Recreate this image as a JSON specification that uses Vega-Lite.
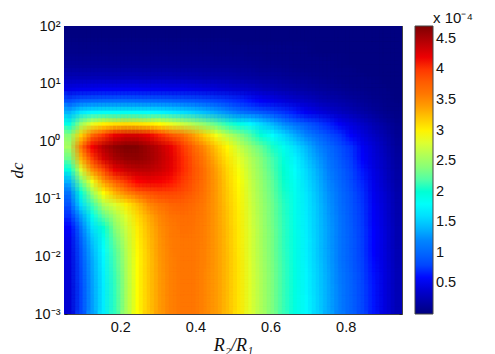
{"$schema":"https://vega.github.io/schema/vega-lite/v6.json","width":338,"height":288,"autosize":{"type":"none"},"padding":{"left":64,"top":26,"right":93,"bottom":40},"background":"white","config":{"font":"Liberation Sans","view":{"stroke":null}},"title":{"text":"x 10⁻⁴","anchor":"start","dx":425,"offset":-8,"fontSize":15,"fontWeight":"normal","font":"Liberation Sans","color":"#111"},"datasets":{"t":[
{"x":0.065,"d":79.4,"v":0.02},{"x":0.095,"d":79.4,"v":0.02},{"x":0.125,"d":79.4,"v":0.02},{"x":0.155,"d":79.4,"v":0.02},{"x":0.185,"d":79.4,"v":0.02},{"x":0.215,"d":79.4,"v":0.02},{"x":0.245,"d":79.4,"v":0.02},{"x":0.275,"d":79.4,"v":0.02},{"x":0.305,"d":79.4,"v":0.02},{"x":0.335,"d":79.4,"v":0.02},{"x":0.365,"d":79.4,"v":0.02},{"x":0.395,"d":79.4,"v":0.02},{"x":0.425,"d":79.4,"v":0.02},{"x":0.455,"d":79.4,"v":0.02},{"x":0.485,"d":79.4,"v":0.02},{"x":0.515,"d":79.4,"v":0.02},{"x":0.545,"d":79.4,"v":0.02},{"x":0.575,"d":79.4,"v":0.02},{"x":0.605,"d":79.4,"v":0.01},{"x":0.635,"d":79.4,"v":0.01},{"x":0.665,"d":79.4,"v":0.01},{"x":0.695,"d":79.4,"v":0.01},{"x":0.725,"d":79.4,"v":0.01},{"x":0.755,"d":79.4,"v":0.01},{"x":0.785,"d":79.4,"v":0.01},{"x":0.815,"d":79.4,"v":0.01},{"x":0.845,"d":79.4,"v":0.01},{"x":0.875,"d":79.4,"v":0.01},{"x":0.905,"d":79.4,"v":0.01},{"x":0.935,"d":79.4,"v":0.01},
{"x":0.065,"d":50.1,"v":0.04},{"x":0.095,"d":50.1,"v":0.04},{"x":0.125,"d":50.1,"v":0.04},{"x":0.155,"d":50.1,"v":0.04},{"x":0.185,"d":50.1,"v":0.04},{"x":0.215,"d":50.1,"v":0.04},{"x":0.245,"d":50.1,"v":0.04},{"x":0.275,"d":50.1,"v":0.04},{"x":0.305,"d":50.1,"v":0.04},{"x":0.335,"d":50.1,"v":0.04},{"x":0.365,"d":50.1,"v":0.04},{"x":0.395,"d":50.1,"v":0.04},{"x":0.425,"d":50.1,"v":0.04},{"x":0.455,"d":50.1,"v":0.04},{"x":0.485,"d":50.1,"v":0.04},{"x":0.515,"d":50.1,"v":0.03},{"x":0.545,"d":50.1,"v":0.03},{"x":0.575,"d":50.1,"v":0.03},{"x":0.605,"d":50.1,"v":0.03},{"x":0.635,"d":50.1,"v":0.03},{"x":0.665,"d":50.1,"v":0.03},{"x":0.695,"d":50.1,"v":0.03},{"x":0.725,"d":50.1,"v":0.02},{"x":0.755,"d":50.1,"v":0.02},{"x":0.785,"d":50.1,"v":0.02},{"x":0.815,"d":50.1,"v":0.02},{"x":0.845,"d":50.1,"v":0.02},{"x":0.875,"d":50.1,"v":0.01},{"x":0.905,"d":50.1,"v":0.01},{"x":0.935,"d":50.1,"v":0.01},
{"x":0.065,"d":31.6,"v":0.08},{"x":0.095,"d":31.6,"v":0.08},{"x":0.125,"d":31.6,"v":0.08},{"x":0.155,"d":31.6,"v":0.08},{"x":0.185,"d":31.6,"v":0.08},{"x":0.215,"d":31.6,"v":0.08},{"x":0.245,"d":31.6,"v":0.08},{"x":0.275,"d":31.6,"v":0.08},{"x":0.305,"d":31.6,"v":0.08},{"x":0.335,"d":31.6,"v":0.08},{"x":0.365,"d":31.6,"v":0.08},{"x":0.395,"d":31.6,"v":0.08},{"x":0.425,"d":31.6,"v":0.08},{"x":0.455,"d":31.6,"v":0.07},{"x":0.485,"d":31.6,"v":0.07},{"x":0.515,"d":31.6,"v":0.07},{"x":0.545,"d":31.6,"v":0.06},{"x":0.575,"d":31.6,"v":0.06},{"x":0.605,"d":31.6,"v":0.05},{"x":0.635,"d":31.6,"v":0.05},{"x":0.665,"d":31.6,"v":0.04},{"x":0.695,"d":31.6,"v":0.04},{"x":0.725,"d":31.6,"v":0.03},{"x":0.755,"d":31.6,"v":0.03},{"x":0.785,"d":31.6,"v":0.03},{"x":0.815,"d":31.6,"v":0.02},{"x":0.845,"d":31.6,"v":0.02},{"x":0.875,"d":31.6,"v":0.02},{"x":0.905,"d":31.6,"v":0.01},{"x":0.935,"d":31.6,"v":0.01},
{"x":0.065,"d":20,"v":0.14},{"x":0.095,"d":20,"v":0.14},{"x":0.125,"d":20,"v":0.14},{"x":0.155,"d":20,"v":0.14},{"x":0.185,"d":20,"v":0.14},{"x":0.215,"d":20,"v":0.14},{"x":0.245,"d":20,"v":0.14},{"x":0.275,"d":20,"v":0.14},{"x":0.305,"d":20,"v":0.14},{"x":0.335,"d":20,"v":0.14},{"x":0.365,"d":20,"v":0.13},{"x":0.395,"d":20,"v":0.13},{"x":0.425,"d":20,"v":0.13},{"x":0.455,"d":20,"v":0.12},{"x":0.485,"d":20,"v":0.12},{"x":0.515,"d":20,"v":0.11},{"x":0.545,"d":20,"v":0.1},{"x":0.575,"d":20,"v":0.09},{"x":0.605,"d":20,"v":0.08},{"x":0.635,"d":20,"v":0.07},{"x":0.665,"d":20,"v":0.06},{"x":0.695,"d":20,"v":0.05},{"x":0.725,"d":20,"v":0.05},{"x":0.755,"d":20,"v":0.04},{"x":0.785,"d":20,"v":0.03},{"x":0.815,"d":20,"v":0.03},{"x":0.845,"d":20,"v":0.02},{"x":0.875,"d":20,"v":0.02},{"x":0.905,"d":20,"v":0.02},{"x":0.935,"d":20,"v":0.01},
{"x":0.065,"d":12.6,"v":0.27},{"x":0.095,"d":12.6,"v":0.28},{"x":0.125,"d":12.6,"v":0.28},{"x":0.155,"d":12.6,"v":0.28},{"x":0.185,"d":12.6,"v":0.28},{"x":0.215,"d":12.6,"v":0.28},{"x":0.245,"d":12.6,"v":0.28},{"x":0.275,"d":12.6,"v":0.27},{"x":0.305,"d":12.6,"v":0.27},{"x":0.335,"d":12.6,"v":0.27},{"x":0.365,"d":12.6,"v":0.26},{"x":0.395,"d":12.6,"v":0.25},{"x":0.425,"d":12.6,"v":0.24},{"x":0.455,"d":12.6,"v":0.23},{"x":0.485,"d":12.6,"v":0.22},{"x":0.515,"d":12.6,"v":0.2},{"x":0.545,"d":12.6,"v":0.18},{"x":0.575,"d":12.6,"v":0.16},{"x":0.605,"d":12.6,"v":0.15},{"x":0.635,"d":12.6,"v":0.13},{"x":0.665,"d":12.6,"v":0.11},{"x":0.695,"d":12.6,"v":0.1},{"x":0.725,"d":12.6,"v":0.08},{"x":0.755,"d":12.6,"v":0.07},{"x":0.785,"d":12.6,"v":0.06},{"x":0.815,"d":12.6,"v":0.05},{"x":0.845,"d":12.6,"v":0.04},{"x":0.875,"d":12.6,"v":0.03},{"x":0.905,"d":12.6,"v":0.02},{"x":0.935,"d":12.6,"v":0.01},
{"x":0.065,"d":7.94,"v":0.48},{"x":0.095,"d":7.94,"v":0.52},{"x":0.125,"d":7.94,"v":0.53},{"x":0.155,"d":7.94,"v":0.54},{"x":0.185,"d":7.94,"v":0.54},{"x":0.215,"d":7.94,"v":0.54},{"x":0.245,"d":7.94,"v":0.54},{"x":0.275,"d":7.94,"v":0.53},{"x":0.305,"d":7.94,"v":0.52},{"x":0.335,"d":7.94,"v":0.51},{"x":0.365,"d":7.94,"v":0.5},{"x":0.395,"d":7.94,"v":0.48},{"x":0.425,"d":7.94,"v":0.46},{"x":0.455,"d":7.94,"v":0.43},{"x":0.485,"d":7.94,"v":0.4},{"x":0.515,"d":7.94,"v":0.37},{"x":0.545,"d":7.94,"v":0.34},{"x":0.575,"d":7.94,"v":0.3},{"x":0.605,"d":7.94,"v":0.27},{"x":0.635,"d":7.94,"v":0.24},{"x":0.665,"d":7.94,"v":0.21},{"x":0.695,"d":7.94,"v":0.18},{"x":0.725,"d":7.94,"v":0.15},{"x":0.755,"d":7.94,"v":0.13},{"x":0.785,"d":7.94,"v":0.11},{"x":0.815,"d":7.94,"v":0.09},{"x":0.845,"d":7.94,"v":0.07},{"x":0.875,"d":7.94,"v":0.05},{"x":0.905,"d":7.94,"v":0.04},{"x":0.935,"d":7.94,"v":0.02},
{"x":0.065,"d":5.01,"v":0.85},{"x":0.095,"d":5.01,"v":0.98},{"x":0.125,"d":5.01,"v":1.02},{"x":0.155,"d":5.01,"v":1.04},{"x":0.185,"d":5.01,"v":1.05},{"x":0.215,"d":5.01,"v":1.05},{"x":0.245,"d":5.01,"v":1.04},{"x":0.275,"d":5.01,"v":1.03},{"x":0.305,"d":5.01,"v":1.01},{"x":0.335,"d":5.01,"v":0.98},{"x":0.365,"d":5.01,"v":0.95},{"x":0.395,"d":5.01,"v":0.91},{"x":0.425,"d":5.01,"v":0.86},{"x":0.455,"d":5.01,"v":0.8},{"x":0.485,"d":5.01,"v":0.74},{"x":0.515,"d":5.01,"v":0.68},{"x":0.545,"d":5.01,"v":0.62},{"x":0.575,"d":5.01,"v":0.56},{"x":0.605,"d":5.01,"v":0.5},{"x":0.635,"d":5.01,"v":0.44},{"x":0.665,"d":5.01,"v":0.38},{"x":0.695,"d":5.01,"v":0.33},{"x":0.725,"d":5.01,"v":0.28},{"x":0.755,"d":5.01,"v":0.24},{"x":0.785,"d":5.01,"v":0.2},{"x":0.815,"d":5.01,"v":0.16},{"x":0.845,"d":5.01,"v":0.12},{"x":0.875,"d":5.01,"v":0.09},{"x":0.905,"d":5.01,"v":0.06},{"x":0.935,"d":5.01,"v":0.03},
{"x":0.065,"d":3.16,"v":1.4},{"x":0.095,"d":3.16,"v":1.65},{"x":0.125,"d":3.16,"v":1.75},{"x":0.155,"d":3.16,"v":1.8},{"x":0.185,"d":3.16,"v":1.82},{"x":0.215,"d":3.16,"v":1.82},{"x":0.245,"d":3.16,"v":1.8},{"x":0.275,"d":3.16,"v":1.78},{"x":0.305,"d":3.16,"v":1.74},{"x":0.335,"d":3.16,"v":1.68},{"x":0.365,"d":3.16,"v":1.62},{"x":0.395,"d":3.16,"v":1.54},{"x":0.425,"d":3.16,"v":1.45},{"x":0.455,"d":3.16,"v":1.35},{"x":0.485,"d":3.16,"v":1.24},{"x":0.515,"d":3.16,"v":1.12},{"x":0.545,"d":3.16,"v":1.02},{"x":0.575,"d":3.16,"v":0.92},{"x":0.605,"d":3.16,"v":0.82},{"x":0.635,"d":3.16,"v":0.72},{"x":0.665,"d":3.16,"v":0.63},{"x":0.695,"d":3.16,"v":0.54},{"x":0.725,"d":3.16,"v":0.46},{"x":0.755,"d":3.16,"v":0.39},{"x":0.785,"d":3.16,"v":0.32},{"x":0.815,"d":3.16,"v":0.26},{"x":0.845,"d":3.16,"v":0.2},{"x":0.875,"d":3.16,"v":0.14},{"x":0.905,"d":3.16,"v":0.09},{"x":0.935,"d":3.16,"v":0.05},
{"x":0.065,"d":2,"v":1.9},{"x":0.095,"d":2,"v":2.5},{"x":0.125,"d":2,"v":2.85},{"x":0.155,"d":2,"v":3.0},{"x":0.185,"d":2,"v":3.08},{"x":0.215,"d":2,"v":3.1},{"x":0.245,"d":2,"v":3.08},{"x":0.275,"d":2,"v":3.03},{"x":0.305,"d":2,"v":2.95},{"x":0.335,"d":2,"v":2.85},{"x":0.365,"d":2,"v":2.72},{"x":0.395,"d":2,"v":2.58},{"x":0.425,"d":2,"v":2.42},{"x":0.455,"d":2,"v":2.25},{"x":0.485,"d":2,"v":2.08},{"x":0.515,"d":2,"v":1.92},{"x":0.545,"d":2,"v":1.75},{"x":0.575,"d":2,"v":1.57},{"x":0.605,"d":2,"v":1.4},{"x":0.635,"d":2,"v":1.23},{"x":0.665,"d":2,"v":1.07},{"x":0.695,"d":2,"v":0.92},{"x":0.725,"d":2,"v":0.78},{"x":0.755,"d":2,"v":0.66},{"x":0.785,"d":2,"v":0.55},{"x":0.815,"d":2,"v":0.44},{"x":0.845,"d":2,"v":0.34},{"x":0.875,"d":2,"v":0.25},{"x":0.905,"d":2,"v":0.16},{"x":0.935,"d":2,"v":0.08},
{"x":0.065,"d":1.26,"v":2.4},{"x":0.095,"d":1.26,"v":3.15},{"x":0.125,"d":1.26,"v":3.7},{"x":0.155,"d":1.26,"v":4.0},{"x":0.185,"d":1.26,"v":4.2},{"x":0.215,"d":1.26,"v":4.3},{"x":0.245,"d":1.26,"v":4.3},{"x":0.275,"d":1.26,"v":4.2},{"x":0.305,"d":1.26,"v":4.05},{"x":0.335,"d":1.26,"v":3.85},{"x":0.365,"d":1.26,"v":3.65},{"x":0.395,"d":1.26,"v":3.4},{"x":0.425,"d":1.26,"v":3.15},{"x":0.455,"d":1.26,"v":2.9},{"x":0.485,"d":1.26,"v":2.65},{"x":0.515,"d":1.26,"v":2.42},{"x":0.545,"d":1.26,"v":2.2},{"x":0.575,"d":1.26,"v":1.98},{"x":0.605,"d":1.26,"v":1.78},{"x":0.635,"d":1.26,"v":1.58},{"x":0.665,"d":1.26,"v":1.38},{"x":0.695,"d":1.26,"v":1.2},{"x":0.725,"d":1.26,"v":1.03},{"x":0.755,"d":1.26,"v":0.87},{"x":0.785,"d":1.26,"v":0.72},{"x":0.815,"d":1.26,"v":0.58},{"x":0.845,"d":1.26,"v":0.45},{"x":0.875,"d":1.26,"v":0.33},{"x":0.905,"d":1.26,"v":0.22},{"x":0.935,"d":1.26,"v":0.11},
{"x":0.065,"d":0.794,"v":2.55},{"x":0.095,"d":0.794,"v":3.6},{"x":0.125,"d":0.794,"v":4.15},{"x":0.155,"d":0.794,"v":4.45},{"x":0.185,"d":0.794,"v":4.62},{"x":0.215,"d":0.794,"v":4.7},{"x":0.245,"d":0.794,"v":4.68},{"x":0.275,"d":0.794,"v":4.55},{"x":0.305,"d":0.794,"v":4.4},{"x":0.335,"d":0.794,"v":4.2},{"x":0.365,"d":0.794,"v":4.0},{"x":0.395,"d":0.794,"v":3.72},{"x":0.425,"d":0.794,"v":3.45},{"x":0.455,"d":0.794,"v":3.2},{"x":0.485,"d":0.794,"v":2.96},{"x":0.515,"d":0.794,"v":2.72},{"x":0.545,"d":0.794,"v":2.48},{"x":0.575,"d":0.794,"v":2.26},{"x":0.605,"d":0.794,"v":2.05},{"x":0.635,"d":0.794,"v":1.85},{"x":0.665,"d":0.794,"v":1.62},{"x":0.695,"d":0.794,"v":1.42},{"x":0.725,"d":0.794,"v":1.22},{"x":0.755,"d":0.794,"v":1.04},{"x":0.785,"d":0.794,"v":0.87},{"x":0.815,"d":0.794,"v":0.71},{"x":0.845,"d":0.794,"v":0.55},{"x":0.875,"d":0.794,"v":0.41},{"x":0.905,"d":0.794,"v":0.28},{"x":0.935,"d":0.794,"v":0.14},
{"x":0.065,"d":0.501,"v":2.3},{"x":0.095,"d":0.501,"v":3.3},{"x":0.125,"d":0.501,"v":3.95},{"x":0.155,"d":0.501,"v":4.3},{"x":0.185,"d":0.501,"v":4.5},{"x":0.215,"d":0.501,"v":4.6},{"x":0.245,"d":0.501,"v":4.62},{"x":0.275,"d":0.501,"v":4.55},{"x":0.305,"d":0.501,"v":4.42},{"x":0.335,"d":0.501,"v":4.25},{"x":0.365,"d":0.501,"v":4.05},{"x":0.395,"d":0.501,"v":3.8},{"x":0.425,"d":0.501,"v":3.55},{"x":0.455,"d":0.501,"v":3.3},{"x":0.485,"d":0.501,"v":3.05},{"x":0.515,"d":0.501,"v":2.85},{"x":0.545,"d":0.501,"v":2.62},{"x":0.575,"d":0.501,"v":2.38},{"x":0.605,"d":0.501,"v":2.16},{"x":0.635,"d":0.501,"v":1.95},{"x":0.665,"d":0.501,"v":1.72},{"x":0.695,"d":0.501,"v":1.5},{"x":0.725,"d":0.501,"v":1.3},{"x":0.755,"d":0.501,"v":1.1},{"x":0.785,"d":0.501,"v":0.92},{"x":0.815,"d":0.501,"v":0.75},{"x":0.845,"d":0.501,"v":0.58},{"x":0.875,"d":0.501,"v":0.43},{"x":0.905,"d":0.501,"v":0.3},{"x":0.935,"d":0.501,"v":0.16},
{"x":0.065,"d":0.316,"v":1.95},{"x":0.095,"d":0.316,"v":2.8},{"x":0.125,"d":0.316,"v":3.45},{"x":0.155,"d":0.316,"v":3.9},{"x":0.185,"d":0.316,"v":4.2},{"x":0.215,"d":0.316,"v":4.35},{"x":0.245,"d":0.316,"v":4.42},{"x":0.275,"d":0.316,"v":4.42},{"x":0.305,"d":0.316,"v":4.35},{"x":0.335,"d":0.316,"v":4.22},{"x":0.365,"d":0.316,"v":4.05},{"x":0.395,"d":0.316,"v":3.85},{"x":0.425,"d":0.316,"v":3.62},{"x":0.455,"d":0.316,"v":3.38},{"x":0.485,"d":0.316,"v":3.12},{"x":0.515,"d":0.316,"v":2.92},{"x":0.545,"d":0.316,"v":2.68},{"x":0.575,"d":0.316,"v":2.43},{"x":0.605,"d":0.316,"v":2.2},{"x":0.635,"d":0.316,"v":2.0},{"x":0.665,"d":0.316,"v":1.78},{"x":0.695,"d":0.316,"v":1.58},{"x":0.725,"d":0.316,"v":1.37},{"x":0.755,"d":0.316,"v":1.17},{"x":0.785,"d":0.316,"v":0.98},{"x":0.815,"d":0.316,"v":0.8},{"x":0.845,"d":0.316,"v":0.62},{"x":0.875,"d":0.316,"v":0.47},{"x":0.905,"d":0.316,"v":0.32},{"x":0.935,"d":0.316,"v":0.18},
{"x":0.065,"d":0.2,"v":1.4},{"x":0.095,"d":0.2,"v":2.3},{"x":0.125,"d":0.2,"v":2.9},{"x":0.155,"d":0.2,"v":3.4},{"x":0.185,"d":0.2,"v":3.75},{"x":0.215,"d":0.2,"v":4.0},{"x":0.245,"d":0.2,"v":4.12},{"x":0.275,"d":0.2,"v":4.18},{"x":0.305,"d":0.2,"v":4.15},{"x":0.335,"d":0.2,"v":4.1},{"x":0.365,"d":0.2,"v":3.98},{"x":0.395,"d":0.2,"v":3.82},{"x":0.425,"d":0.2,"v":3.62},{"x":0.455,"d":0.2,"v":3.4},{"x":0.485,"d":0.2,"v":3.16},{"x":0.515,"d":0.2,"v":2.95},{"x":0.545,"d":0.2,"v":2.72},{"x":0.575,"d":0.2,"v":2.47},{"x":0.605,"d":0.2,"v":2.25},{"x":0.635,"d":0.2,"v":2.03},{"x":0.665,"d":0.2,"v":1.82},{"x":0.695,"d":0.2,"v":1.62},{"x":0.725,"d":0.2,"v":1.41},{"x":0.755,"d":0.2,"v":1.21},{"x":0.785,"d":0.2,"v":1.02},{"x":0.815,"d":0.2,"v":0.84},{"x":0.845,"d":0.2,"v":0.66},{"x":0.875,"d":0.2,"v":0.5},{"x":0.905,"d":0.2,"v":0.35},{"x":0.935,"d":0.2,"v":0.2},
{"x":0.065,"d":0.126,"v":1.1},{"x":0.095,"d":0.126,"v":1.95},{"x":0.125,"d":0.126,"v":2.5},{"x":0.155,"d":0.126,"v":2.95},{"x":0.185,"d":0.126,"v":3.28},{"x":0.215,"d":0.126,"v":3.5},{"x":0.245,"d":0.126,"v":3.72},{"x":0.275,"d":0.126,"v":3.85},{"x":0.305,"d":0.126,"v":3.92},{"x":0.335,"d":0.126,"v":3.92},{"x":0.365,"d":0.126,"v":3.88},{"x":0.395,"d":0.126,"v":3.76},{"x":0.425,"d":0.126,"v":3.6},{"x":0.455,"d":0.126,"v":3.4},{"x":0.485,"d":0.126,"v":3.18},{"x":0.515,"d":0.126,"v":2.97},{"x":0.545,"d":0.126,"v":2.74},{"x":0.575,"d":0.126,"v":2.5},{"x":0.605,"d":0.126,"v":2.27},{"x":0.635,"d":0.126,"v":2.05},{"x":0.665,"d":0.126,"v":1.85},{"x":0.695,"d":0.126,"v":1.65},{"x":0.725,"d":0.126,"v":1.45},{"x":0.755,"d":0.126,"v":1.25},{"x":0.785,"d":0.126,"v":1.06},{"x":0.815,"d":0.126,"v":0.88},{"x":0.845,"d":0.126,"v":0.7},{"x":0.875,"d":0.126,"v":0.53},{"x":0.905,"d":0.126,"v":0.38},{"x":0.935,"d":0.126,"v":0.22},
{"x":0.065,"d":0.0794,"v":0.88},{"x":0.095,"d":0.0794,"v":1.6},{"x":0.125,"d":0.0794,"v":2.15},{"x":0.155,"d":0.0794,"v":2.6},{"x":0.185,"d":0.0794,"v":2.8},{"x":0.215,"d":0.0794,"v":3.02},{"x":0.245,"d":0.0794,"v":3.25},{"x":0.275,"d":0.0794,"v":3.48},{"x":0.305,"d":0.0794,"v":3.62},{"x":0.335,"d":0.0794,"v":3.72},{"x":0.365,"d":0.0794,"v":3.75},{"x":0.395,"d":0.0794,"v":3.68},{"x":0.425,"d":0.0794,"v":3.56},{"x":0.455,"d":0.0794,"v":3.4},{"x":0.485,"d":0.0794,"v":3.2},{"x":0.515,"d":0.0794,"v":3.0},{"x":0.545,"d":0.0794,"v":2.76},{"x":0.575,"d":0.0794,"v":2.52},{"x":0.605,"d":0.0794,"v":2.3},{"x":0.635,"d":0.0794,"v":2.08},{"x":0.665,"d":0.0794,"v":1.87},{"x":0.695,"d":0.0794,"v":1.67},{"x":0.725,"d":0.0794,"v":1.47},{"x":0.755,"d":0.0794,"v":1.27},{"x":0.785,"d":0.0794,"v":1.08},{"x":0.815,"d":0.0794,"v":0.9},{"x":0.845,"d":0.0794,"v":0.72},{"x":0.875,"d":0.0794,"v":0.55},{"x":0.905,"d":0.0794,"v":0.4},{"x":0.935,"d":0.0794,"v":0.23},
{"x":0.065,"d":0.0501,"v":0.7},{"x":0.095,"d":0.0501,"v":1.3},{"x":0.125,"d":0.0501,"v":1.85},{"x":0.155,"d":0.0501,"v":2.25},{"x":0.185,"d":0.0501,"v":2.55},{"x":0.215,"d":0.0501,"v":2.82},{"x":0.245,"d":0.0501,"v":3.1},{"x":0.275,"d":0.0501,"v":3.32},{"x":0.305,"d":0.0501,"v":3.5},{"x":0.335,"d":0.0501,"v":3.62},{"x":0.365,"d":0.0501,"v":3.67},{"x":0.395,"d":0.0501,"v":3.64},{"x":0.425,"d":0.0501,"v":3.54},{"x":0.455,"d":0.0501,"v":3.4},{"x":0.485,"d":0.0501,"v":3.22},{"x":0.515,"d":0.0501,"v":3.02},{"x":0.545,"d":0.0501,"v":2.78},{"x":0.575,"d":0.0501,"v":2.54},{"x":0.605,"d":0.0501,"v":2.31},{"x":0.635,"d":0.0501,"v":2.09},{"x":0.665,"d":0.0501,"v":1.88},{"x":0.695,"d":0.0501,"v":1.68},{"x":0.725,"d":0.0501,"v":1.48},{"x":0.755,"d":0.0501,"v":1.29},{"x":0.785,"d":0.0501,"v":1.1},{"x":0.815,"d":0.0501,"v":0.92},{"x":0.845,"d":0.0501,"v":0.74},{"x":0.875,"d":0.0501,"v":0.57},{"x":0.905,"d":0.0501,"v":0.41},{"x":0.935,"d":0.0501,"v":0.24},
{"x":0.065,"d":0.0316,"v":0.58},{"x":0.095,"d":0.0316,"v":1.1},{"x":0.125,"d":0.0316,"v":1.62},{"x":0.155,"d":0.0316,"v":2.0},{"x":0.185,"d":0.0316,"v":2.4},{"x":0.215,"d":0.0316,"v":2.72},{"x":0.245,"d":0.0316,"v":3.02},{"x":0.275,"d":0.0316,"v":3.26},{"x":0.305,"d":0.0316,"v":3.45},{"x":0.335,"d":0.0316,"v":3.57},{"x":0.365,"d":0.0316,"v":3.63},{"x":0.395,"d":0.0316,"v":3.62},{"x":0.425,"d":0.0316,"v":3.53},{"x":0.455,"d":0.0316,"v":3.4},{"x":0.485,"d":0.0316,"v":3.23},{"x":0.515,"d":0.0316,"v":3.03},{"x":0.545,"d":0.0316,"v":2.79},{"x":0.575,"d":0.0316,"v":2.55},{"x":0.605,"d":0.0316,"v":2.32},{"x":0.635,"d":0.0316,"v":2.1},{"x":0.665,"d":0.0316,"v":1.89},{"x":0.695,"d":0.0316,"v":1.69},{"x":0.725,"d":0.0316,"v":1.49},{"x":0.755,"d":0.0316,"v":1.3},{"x":0.785,"d":0.0316,"v":1.11},{"x":0.815,"d":0.0316,"v":0.93},{"x":0.845,"d":0.0316,"v":0.75},{"x":0.875,"d":0.0316,"v":0.58},{"x":0.905,"d":0.0316,"v":0.42},{"x":0.935,"d":0.0316,"v":0.25},
{"x":0.065,"d":0.02,"v":0.5},{"x":0.095,"d":0.02,"v":0.97},{"x":0.125,"d":0.02,"v":1.48},{"x":0.155,"d":0.02,"v":1.85},{"x":0.185,"d":0.02,"v":2.28},{"x":0.215,"d":0.02,"v":2.66},{"x":0.245,"d":0.02,"v":2.99},{"x":0.275,"d":0.02,"v":3.23},{"x":0.305,"d":0.02,"v":3.43},{"x":0.335,"d":0.02,"v":3.55},{"x":0.365,"d":0.02,"v":3.61},{"x":0.395,"d":0.02,"v":3.6},{"x":0.425,"d":0.02,"v":3.52},{"x":0.455,"d":0.02,"v":3.4},{"x":0.485,"d":0.02,"v":3.23},{"x":0.515,"d":0.02,"v":3.03},{"x":0.545,"d":0.02,"v":2.8},{"x":0.575,"d":0.02,"v":2.55},{"x":0.605,"d":0.02,"v":2.33},{"x":0.635,"d":0.02,"v":2.1},{"x":0.665,"d":0.02,"v":1.9},{"x":0.695,"d":0.02,"v":1.7},{"x":0.725,"d":0.02,"v":1.5},{"x":0.755,"d":0.02,"v":1.3},{"x":0.785,"d":0.02,"v":1.12},{"x":0.815,"d":0.02,"v":0.94},{"x":0.845,"d":0.02,"v":0.76},{"x":0.875,"d":0.02,"v":0.59},{"x":0.905,"d":0.02,"v":0.43},{"x":0.935,"d":0.02,"v":0.25},
{"x":0.065,"d":0.0126,"v":0.46},{"x":0.095,"d":0.0126,"v":0.9},{"x":0.125,"d":0.0126,"v":1.4},{"x":0.155,"d":0.0126,"v":1.77},{"x":0.185,"d":0.0126,"v":2.2},{"x":0.215,"d":0.0126,"v":2.61},{"x":0.245,"d":0.0126,"v":2.96},{"x":0.275,"d":0.0126,"v":3.21},{"x":0.305,"d":0.0126,"v":3.42},{"x":0.335,"d":0.0126,"v":3.54},{"x":0.365,"d":0.0126,"v":3.6},{"x":0.395,"d":0.0126,"v":3.59},{"x":0.425,"d":0.0126,"v":3.51},{"x":0.455,"d":0.0126,"v":3.4},{"x":0.485,"d":0.0126,"v":3.24},{"x":0.515,"d":0.0126,"v":3.04},{"x":0.545,"d":0.0126,"v":2.8},{"x":0.575,"d":0.0126,"v":2.56},{"x":0.605,"d":0.0126,"v":2.33},{"x":0.635,"d":0.0126,"v":2.11},{"x":0.665,"d":0.0126,"v":1.9},{"x":0.695,"d":0.0126,"v":1.7},{"x":0.725,"d":0.0126,"v":1.5},{"x":0.755,"d":0.0126,"v":1.31},{"x":0.785,"d":0.0126,"v":1.12},{"x":0.815,"d":0.0126,"v":0.94},{"x":0.845,"d":0.0126,"v":0.76},{"x":0.875,"d":0.0126,"v":0.59},{"x":0.905,"d":0.0126,"v":0.43},{"x":0.935,"d":0.0126,"v":0.26},
{"x":0.065,"d":0.00794,"v":0.44},{"x":0.095,"d":0.00794,"v":0.86},{"x":0.125,"d":0.00794,"v":1.35},{"x":0.155,"d":0.00794,"v":1.73},{"x":0.185,"d":0.00794,"v":2.16},{"x":0.215,"d":0.00794,"v":2.58},{"x":0.245,"d":0.00794,"v":2.95},{"x":0.275,"d":0.00794,"v":3.2},{"x":0.305,"d":0.00794,"v":3.41},{"x":0.335,"d":0.00794,"v":3.53},{"x":0.365,"d":0.00794,"v":3.59},{"x":0.395,"d":0.00794,"v":3.59},{"x":0.425,"d":0.00794,"v":3.51},{"x":0.455,"d":0.00794,"v":3.4},{"x":0.485,"d":0.00794,"v":3.25},{"x":0.515,"d":0.00794,"v":3.05},{"x":0.545,"d":0.00794,"v":2.81},{"x":0.575,"d":0.00794,"v":2.57},{"x":0.605,"d":0.00794,"v":2.34},{"x":0.635,"d":0.00794,"v":2.12},{"x":0.665,"d":0.00794,"v":1.91},{"x":0.695,"d":0.00794,"v":1.71},{"x":0.725,"d":0.00794,"v":1.51},{"x":0.755,"d":0.00794,"v":1.32},{"x":0.785,"d":0.00794,"v":1.13},{"x":0.815,"d":0.00794,"v":0.95},{"x":0.845,"d":0.00794,"v":0.77},{"x":0.875,"d":0.00794,"v":0.6},{"x":0.905,"d":0.00794,"v":0.44},{"x":0.935,"d":0.00794,"v":0.26},
{"x":0.065,"d":0.00501,"v":0.42},{"x":0.095,"d":0.00501,"v":0.83},{"x":0.125,"d":0.00501,"v":1.33},{"x":0.155,"d":0.00501,"v":1.7},{"x":0.185,"d":0.00501,"v":2.13},{"x":0.215,"d":0.00501,"v":2.56},{"x":0.245,"d":0.00501,"v":2.94},{"x":0.275,"d":0.00501,"v":3.2},{"x":0.305,"d":0.00501,"v":3.4},{"x":0.335,"d":0.00501,"v":3.52},{"x":0.365,"d":0.00501,"v":3.58},{"x":0.395,"d":0.00501,"v":3.58},{"x":0.425,"d":0.00501,"v":3.5},{"x":0.455,"d":0.00501,"v":3.4},{"x":0.485,"d":0.00501,"v":3.25},{"x":0.515,"d":0.00501,"v":3.05},{"x":0.545,"d":0.00501,"v":2.82},{"x":0.575,"d":0.00501,"v":2.58},{"x":0.605,"d":0.00501,"v":2.35},{"x":0.635,"d":0.00501,"v":2.13},{"x":0.665,"d":0.00501,"v":1.92},{"x":0.695,"d":0.00501,"v":1.73},{"x":0.725,"d":0.00501,"v":1.53},{"x":0.755,"d":0.00501,"v":1.34},{"x":0.785,"d":0.00501,"v":1.15},{"x":0.815,"d":0.00501,"v":0.97},{"x":0.845,"d":0.00501,"v":0.79},{"x":0.875,"d":0.00501,"v":0.61},{"x":0.905,"d":0.00501,"v":0.45},{"x":0.935,"d":0.00501,"v":0.27},
{"x":0.065,"d":0.00316,"v":0.41},{"x":0.095,"d":0.00316,"v":0.81},{"x":0.125,"d":0.00316,"v":1.31},{"x":0.155,"d":0.00316,"v":1.69},{"x":0.185,"d":0.00316,"v":2.11},{"x":0.215,"d":0.00316,"v":2.55},{"x":0.245,"d":0.00316,"v":2.94},{"x":0.275,"d":0.00316,"v":3.2},{"x":0.305,"d":0.00316,"v":3.4},{"x":0.335,"d":0.00316,"v":3.52},{"x":0.365,"d":0.00316,"v":3.58},{"x":0.395,"d":0.00316,"v":3.58},{"x":0.425,"d":0.00316,"v":3.5},{"x":0.455,"d":0.00316,"v":3.4},{"x":0.485,"d":0.00316,"v":3.25},{"x":0.515,"d":0.00316,"v":3.05},{"x":0.545,"d":0.00316,"v":2.82},{"x":0.575,"d":0.00316,"v":2.58},{"x":0.605,"d":0.00316,"v":2.35},{"x":0.635,"d":0.00316,"v":2.13},{"x":0.665,"d":0.00316,"v":1.92},{"x":0.695,"d":0.00316,"v":1.74},{"x":0.725,"d":0.00316,"v":1.54},{"x":0.755,"d":0.00316,"v":1.35},{"x":0.785,"d":0.00316,"v":1.16},{"x":0.815,"d":0.00316,"v":0.98},{"x":0.845,"d":0.00316,"v":0.8},{"x":0.875,"d":0.00316,"v":0.62},{"x":0.905,"d":0.00316,"v":0.45},{"x":0.935,"d":0.00316,"v":0.27},
{"x":0.065,"d":0.002,"v":0.4},{"x":0.095,"d":0.002,"v":0.8},{"x":0.125,"d":0.002,"v":1.3},{"x":0.155,"d":0.002,"v":1.68},{"x":0.185,"d":0.002,"v":2.1},{"x":0.215,"d":0.002,"v":2.55},{"x":0.245,"d":0.002,"v":2.94},{"x":0.275,"d":0.002,"v":3.2},{"x":0.305,"d":0.002,"v":3.4},{"x":0.335,"d":0.002,"v":3.52},{"x":0.365,"d":0.002,"v":3.58},{"x":0.395,"d":0.002,"v":3.58},{"x":0.425,"d":0.002,"v":3.5},{"x":0.455,"d":0.002,"v":3.4},{"x":0.485,"d":0.002,"v":3.25},{"x":0.515,"d":0.002,"v":3.05},{"x":0.545,"d":0.002,"v":2.82},{"x":0.575,"d":0.002,"v":2.58},{"x":0.605,"d":0.002,"v":2.35},{"x":0.635,"d":0.002,"v":2.13},{"x":0.665,"d":0.002,"v":1.92},{"x":0.695,"d":0.002,"v":1.75},{"x":0.725,"d":0.002,"v":1.55},{"x":0.755,"d":0.002,"v":1.35},{"x":0.785,"d":0.002,"v":1.17},{"x":0.815,"d":0.002,"v":0.98},{"x":0.845,"d":0.002,"v":0.8},{"x":0.875,"d":0.002,"v":0.62},{"x":0.905,"d":0.002,"v":0.45},{"x":0.935,"d":0.002,"v":0.27},
{"x":0.065,"d":0.00126,"v":0.4},{"x":0.095,"d":0.00126,"v":0.8},{"x":0.125,"d":0.00126,"v":1.3},{"x":0.155,"d":0.00126,"v":1.68},{"x":0.185,"d":0.00126,"v":2.1},{"x":0.215,"d":0.00126,"v":2.55},{"x":0.245,"d":0.00126,"v":2.94},{"x":0.275,"d":0.00126,"v":3.2},{"x":0.305,"d":0.00126,"v":3.4},{"x":0.335,"d":0.00126,"v":3.52},{"x":0.365,"d":0.00126,"v":3.58},{"x":0.395,"d":0.00126,"v":3.58},{"x":0.425,"d":0.00126,"v":3.5},{"x":0.455,"d":0.00126,"v":3.4},{"x":0.485,"d":0.00126,"v":3.25},{"x":0.515,"d":0.00126,"v":3.05},{"x":0.545,"d":0.00126,"v":2.82},{"x":0.575,"d":0.00126,"v":2.58},{"x":0.605,"d":0.00126,"v":2.35},{"x":0.635,"d":0.00126,"v":2.13},{"x":0.665,"d":0.00126,"v":1.92},{"x":0.695,"d":0.00126,"v":1.75},{"x":0.725,"d":0.00126,"v":1.55},{"x":0.755,"d":0.00126,"v":1.35},{"x":0.785,"d":0.00126,"v":1.17},{"x":0.815,"d":0.00126,"v":0.98},{"x":0.845,"d":0.00126,"v":0.8},{"x":0.875,"d":0.00126,"v":0.62},{"x":0.905,"d":0.00126,"v":0.45},{"x":0.935,"d":0.00126,"v":0.27}
]},"layer":[{"data":{"name":"t"},"encoding":{"x":{"field":"x","type":"quantitative","scale":{"domain":[0.05,0.95],"nice":false,"zero":false},"axis":{"values":[0.2,0.4,0.6,0.8],"format":".1f","grid":false,"tickSize":-3,"tickColor":"#222","domainColor":"#444","labelFontSize":14.5,"labelColor":"#111","labelPadding":9,"title":"R₂/R₁","titleFont":"Liberation Serif","titleFontStyle":"italic","titleFontWeight":"normal","titleFontSize":18,"titleColor":"#111","titlePadding":3}},"y":{"field":"d","type":"quantitative","scale":{"type":"log","domain":[0.001,100],"nice":false},"axis":{"values":[0.001,0.002,0.003,0.004,0.005,0.006,0.007,0.008,0.009,0.01,0.02,0.03,0.04,0.05,0.06,0.07,0.08,0.09,0.1,0.2,0.3,0.4,0.5,0.6,0.7,0.8,0.9,1,2,3,4,5,6,7,8,9,10,20,30,40,50,60,70,80,90,100],"labelExpr":"datum.value==100?'10²':datum.value==10?'10¹':datum.value==1?'10⁰':datum.value==0.1?'10⁻¹':datum.value==0.01?'10⁻²':datum.value==0.001?'10⁻³':''","grid":false,"tickSize":{"condition":{"test":"indexof([0.001,0.01,0.1,1,10,100],datum.value)>=0","value":-3},"value":-1.5},"tickColor":"#222","domainColor":"#444","labelFontSize":14.5,"labelColor":"#111","labelPadding":7,"labelOverlap":false,"title":"dc","titleFont":"Liberation Serif","titleFontStyle":"italic","titleFontWeight":"normal","titleFontSize":17,"titleColor":"#111","titlePadding":8}},"color":{"field":"v","type":"quantitative","legend":null}},"layer":[
{"mark":{"type":"rect","width":11.8,"height":12,"clip":true},"encoding":{"color":{"field":"v","type":"quantitative","scale":{"domain":[0,0.589,1.178,1.766,2.355,2.944,3.533,4.121,4.71],"range":["#00007f","#0000ff","#007fff","#00ffff","#7fff7f","#ffff00","#ff7f00","#ff0000","#7f0000"]},"legend":{"orient":"none","legendX":351,"legendY":0,"title":null,"gradientLength":288,"gradientThickness":18,"values":[0.5,1,1.5,2,2.5,3,3.5,4,4.5],"format":".2~f","labelFontSize":14.5,"labelColor":"#111","labelOffset":3,"gradientStrokeColor":"#444","gradientStrokeWidth":1,"direction":"vertical"}}}},
{"mark":{"type":"rect","width":11.8,"height":12,"clip":true,"xOffset":-3.76,"yOffset":-3.84}},
{"mark":{"type":"rect","width":11.8,"height":12,"clip":true,"xOffset":0,"yOffset":-3.84,"opacity":0.5}},
{"mark":{"type":"rect","width":11.8,"height":12,"clip":true,"xOffset":3.76,"yOffset":-3.84,"opacity":0.3333}},
{"mark":{"type":"rect","width":11.8,"height":12,"clip":true,"xOffset":-3.76,"yOffset":0,"opacity":0.25}},
{"mark":{"type":"rect","width":11.8,"height":12,"clip":true,"xOffset":0,"yOffset":0,"opacity":0.2}},
{"mark":{"type":"rect","width":11.8,"height":12,"clip":true,"xOffset":3.76,"yOffset":0,"opacity":0.1667}},
{"mark":{"type":"rect","width":11.8,"height":12,"clip":true,"xOffset":-3.76,"yOffset":3.84,"opacity":0.1429}},
{"mark":{"type":"rect","width":11.8,"height":12,"clip":true,"xOffset":0,"yOffset":3.84,"opacity":0.125}},
{"mark":{"type":"rect","width":11.8,"height":12,"clip":true,"xOffset":3.76,"yOffset":3.84,"opacity":0.1111}}
]},{"data":{"values":[{"x":0.5,"d":1}]},"mark":{"type":"point","opacity":0},"encoding":{"x":{"field":"x","type":"quantitative","axis":{"orient":"top","values":[0.2,0.4,0.6,0.8],"labels":false,"title":null,"grid":false,"tickSize":-3,"tickColor":"#222","domainColor":"#000"}},"y":{"field":"d","type":"quantitative","axis":{"orient":"right","values":[0.001,0.01,0.1,1,10,100],"labels":false,"title":null,"grid":false,"tickSize":-3,"tickColor":"#222","domainColor":"#444"}}}}],"resolve":{"axis":{"x":"independent","y":"independent"}}}
